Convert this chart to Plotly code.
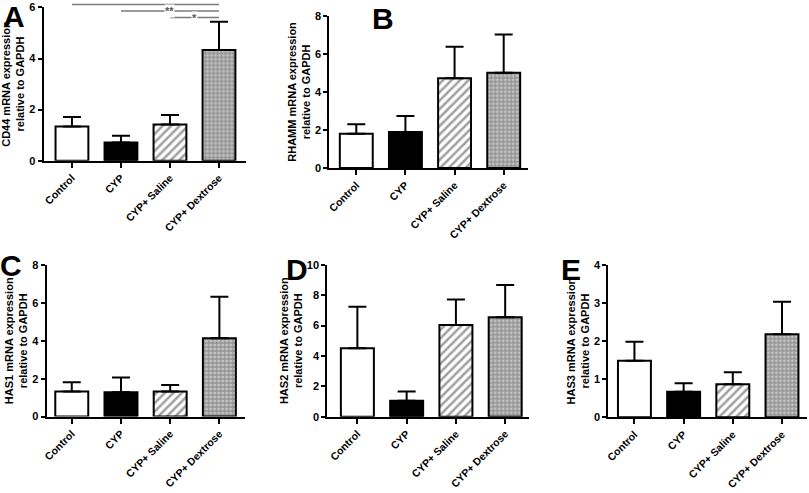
import plotly.graph_objects as go

groups = ["Control", "CYP", "CYP+ Saline", "CYP+ Dextrose"]

cd44_mean = [1.34, 0.71, 1.42, 4.33]
cd44_err = [0.37, 0.27, 0.37, 1.11]
rhamm_mean = [1.80, 1.90, 4.72, 5.01]
rhamm_err = [0.50, 0.84, 1.65, 2.01]
has1_mean = [1.32, 1.29, 1.32, 4.13]
has1_err = [0.49, 0.77, 0.35, 2.20]
has2_mean = [4.50, 1.05, 6.03, 6.54]
has2_err = [2.74, 0.60, 1.69, 2.12]
has3_mean = [1.48, 0.67, 0.87, 2.18]
has3_err = [0.50, 0.22, 0.31, 0.85]

# significance brackets on panel A (all against CYP+ Dextrose)
sig_from = ["Control", "CYP", "CYP+ Saline"]
sig_level = [6.11, 5.86, 5.60]
sig_label = ["*", "**", "*"]

panels = [
    dict(letter="A", gene="CD44", mean=cd44_mean, err=cd44_err, ymax=6, dtick=2,
         dx=[0.0538, 0.304], dy=[0.674, 0.985], xr=[-0.58, 3.55]),
    dict(letter="B", gene="RHAMM", mean=rhamm_mean, err=rhamm_err, ymax=8, dtick=2,
         dx=[0.407, 0.653], dy=[0.659, 0.968], xr=[-0.55, 3.5]),
    dict(letter="C", gene="HAS1", mean=has1_mean, err=has1_err, ymax=8, dtick=2,
         dx=[0.0577, 0.3028], dy=[0.155, 0.4625], xr=[-0.51, 3.52]),
    dict(letter="D", gene="HAS2", mean=has2_mean, err=has2_err, ymax=10, dtick=2,
         dx=[0.4046, 0.6543], dy=[0.1548, 0.463], xr=[-0.61, 3.49]),
    dict(letter="E", gene="HAS3", mean=has3_mean, err=has3_err, ymax=4, dtick=1,
         dx=[0.752, 0.997], dy=[0.1535, 0.463], xr=[-0.53, 3.5]),
]

letter_pos = {"A": (14, 16), "B": (383, 18), "C": (11, 265), "D": (297, 269), "E": (571, 269)}

W, H = 809, 493
fill_bg = ["white", "black", "white", "#c4c4c4"]
fill_fg = ["white", "black", "black", "#3c3c3c"]
fill_shape = ["", "", "/", "+"]

fig = go.Figure()

for i, p in enumerate(panels):
    n = "" if i == 0 else str(i + 1)
    xa, ya = "x" + n, "y" + n
    fig.add_trace(go.Bar(
        x=groups, y=p["mean"], xaxis=xa, yaxis=ya, width=0.67,
        marker=dict(
            color=fill_bg,
            line=dict(color="black", width=2),
            pattern=dict(shape=fill_shape, fgcolor=fill_fg,
                         size=[6, 6, 6, 4], solidity=[0.3, 0.3, 0.42, 0.45],
                         fillmode="overlay"),
        ),
        error_y=dict(type="data", symmetric=False, array=p["err"],
                     arrayminus=[0] * len(groups), color="black", thickness=2, width=9),
        showlegend=False,
    ))
    fig.update_layout(**{
        "xaxis" + n: dict(domain=p["dx"], anchor=ya, range=p["xr"], type="category",
                          automargin=False,
                          showline=True, linecolor="black", linewidth=2,
                          ticks="outside", ticklen=5, tickwidth=1.5, tickcolor="black",
                          tickangle=-45, tickfont=dict(size=10.5), showgrid=False),
        "yaxis" + n: dict(domain=p["dy"], anchor=xa, range=[0, p["ymax"]], dtick=p["dtick"],
                          automargin=False,
                          showline=True, linecolor="black", linewidth=2,
                          ticks="outside", ticklen=4, tickwidth=1.5, tickcolor="black",
                          tickfont=dict(size=11), showgrid=False, zeroline=False,
                          title=dict(text=p["gene"] + " mRNA expression<br>relative to GAPDH",
                                     font=dict(size=11), standoff=2)),
    })
    lx, ly = letter_pos[p["letter"]]
    fig.add_annotation(text=p["letter"], x=lx / W, y=1 - ly / H, xref="paper", yref="paper",
                       xanchor="center", yanchor="middle",
                       showarrow=False, font=dict(size=30, color="black"))

# significance lines on panel A
for g, lev, lab in zip(sig_from, sig_level, sig_label):
    fig.add_shape(type="line", xref="x", yref="y domain", x0=g, x1=groups[-1],
                  y0=lev / panels[0]["ymax"], y1=lev / panels[0]["ymax"],
                  line=dict(color="#7a7a7a", width=1.5))
    mid = (groups.index(g) + len(groups) - 1) / 2
    fig.add_annotation(text=lab, x=mid, y=lev, xref="x", yref="y", showarrow=False,
                       bgcolor="white", borderpad=0, font=dict(size=11, color="#555555"))

fig.update_layout(
    width=W, height=H,
    margin=dict(l=0, r=0, t=0, b=0),
    paper_bgcolor="white", plot_bgcolor="white",
    font=dict(family="Liberation Sans, Arial, sans-serif", color="black", weight="bold"),
)

# the page body has a default 8px margin; drop it so the figure sits at the corner
fig.write_html("out.html", config={"displayModeBar": False},
               post_script="document.body.style.margin='0';")
